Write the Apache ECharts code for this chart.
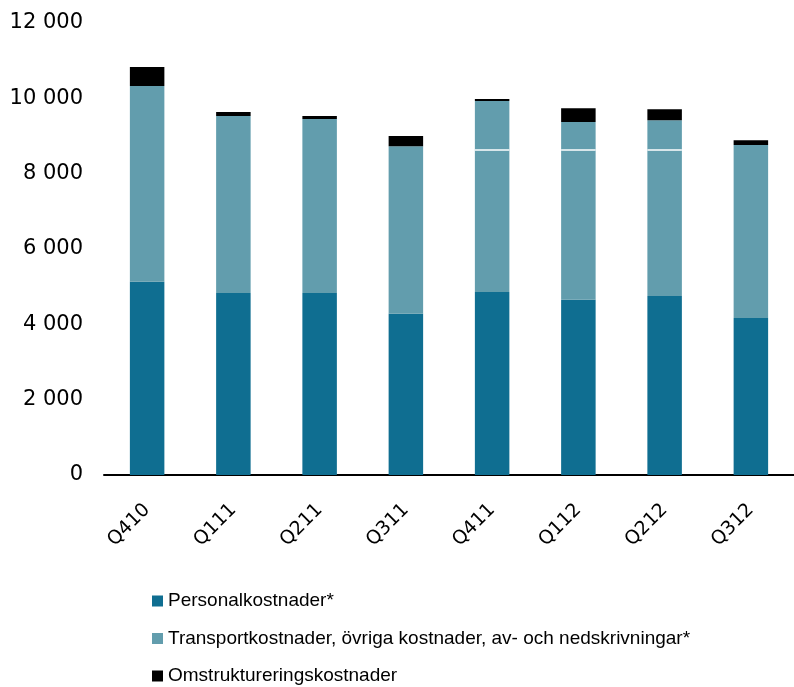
<!DOCTYPE html>
<html><head><meta charset="utf-8">
<script src="https://cdn.jsdelivr.net/npm/echarts@6/dist/echarts.min.js"></script>
<style>html,body{margin:0;padding:0;background:#fff}#c{width:794px;height:687px}</style>
</head><body><div id="c"></div>
<script>
const categories = ['Q410','Q111','Q211','Q311','Q411','Q112','Q212','Q312'];
const personal = [5130, 4830, 4830, 4280, 4860, 4650, 4750, 4170];
const transport = [5200, 4700, 4620, 4450, 5070, 4720, 4670, 4590];
const omstr = [500, 110, 80, 270, 55, 370, 290, 130];
const seriesNames = ['Personalkostnader*', 'Transportkostnader, övriga kostnader, av- och nedskrivningar*', 'Omstruktureringskostnader'];
const yTicks = [0, 2000, 4000, 6000, 8000, 10000, 12000];
// thin white separator visible inside some transport segments
const separator = [['Q411', 8630], ['Q112', 8630], ['Q212', 8630]];

const chart = echarts.init(document.getElementById('c'), null, {renderer: 'canvas'});
const fmt = v => String(v).replace(/\B(?=(\d{3})+(?!\d))/g, ' ');
chart.setOption({
  animation: false,
  backgroundColor: '#fff',
  grid: {left: 104, right: -7, top: 23, bottom: 212, containLabel: false},
  xAxis: {
    type: 'category', data: categories,
    axisLine: {lineStyle: {color: '#000', width: 2}},
    axisTick: {show: false},
    axisLabel: {rotate: 45, margin: 32, fontFamily: 'DejaVu Sans', fontSize: 19, color: '#000'}
  },
  yAxis: {
    type: 'value', min: yTicks[0], max: yTicks[yTicks.length - 1], interval: 2000,
    axisLine: {show: false}, axisTick: {show: false}, splitLine: {show: false},
    axisLabel: {formatter: fmt, margin: 21, fontFamily: 'DejaVu Sans', fontSize: 21, color: '#000'}
  },
  legend: {
    orient: 'vertical', left: 147, top: 585, height: 110, width: 640,
    itemWidth: 11, itemHeight: 11, itemGap: 15.5,
    icon: 'rect',
    textStyle: {fontFamily: 'Liberation Sans', fontSize: 19, color: '#000', lineHeight: 22},
    data: seriesNames
  },
  series: [
    {name: seriesNames[0], type: 'bar', stack: 's', data: personal, barWidth: '40%', itemStyle: {color: '#0f6e91'}},
    {name: seriesNames[1], type: 'bar', stack: 's', data: transport, itemStyle: {color: '#629dad'}},
    {name: seriesNames[2], type: 'bar', stack: 's', data: omstr, itemStyle: {color: '#000'}},
    {
      type: 'custom', data: separator, z: 10, silent: true,
      renderItem: function (params, api) {
        const p = api.coord([api.value(0), api.value(1)]);
        const w = api.size([1, 0])[0] * 0.4;
        return {type: 'rect', shape: {x: p[0] - w / 2, y: p[1] - 0.75, width: w, height: 1.5}, style: {fill: '#fff'}};
      },
      encode: {x: 0, y: 1}
    }
  ]
});
</script></body></html>
